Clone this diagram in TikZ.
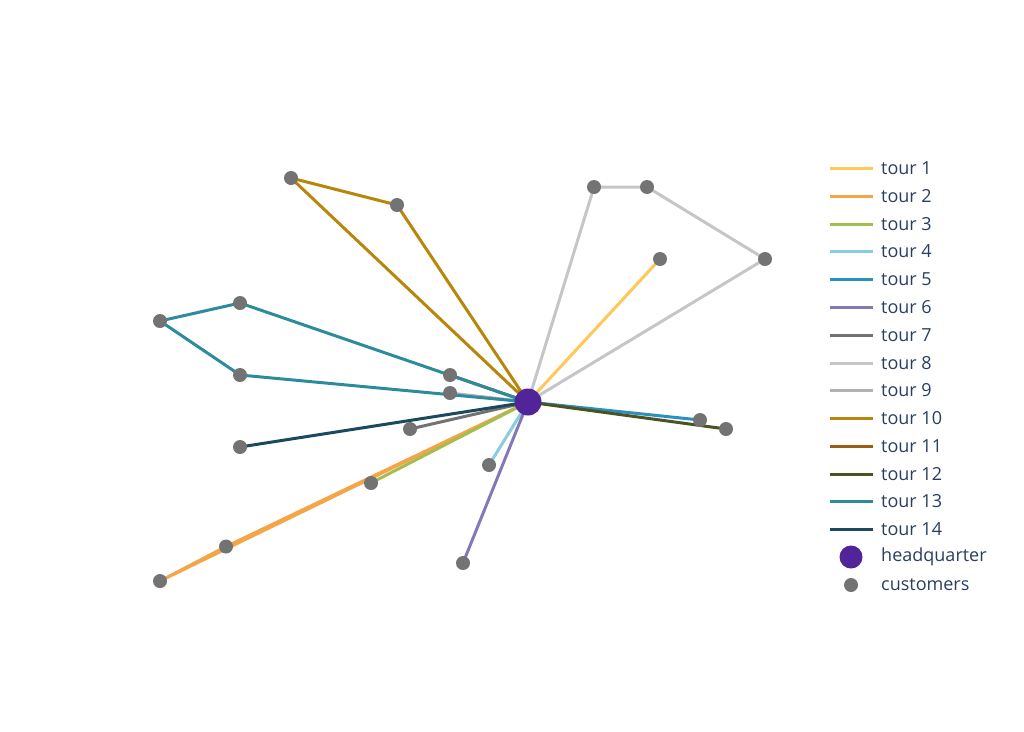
\documentclass[tikz,border=0pt]{standalone}
\usepackage{fontspec}
\setmainfont{Open Sans}
\usetikzlibrary{backgrounds}
\definecolor{t1}{HTML}{FFC857}
\definecolor{t2}{HTML}{F4A548}
\definecolor{t3}{HTML}{A3BD4E}
\definecolor{t4}{HTML}{8ACDE0}
\definecolor{t5}{HTML}{2B8FC0}
\definecolor{t6}{HTML}{8479B8}
\definecolor{t7}{HTML}{727272}
\definecolor{t8}{HTML}{C6C6C6}
\definecolor{t9}{HTML}{B2B2B2}
\definecolor{t10}{HTML}{B8860B}
\definecolor{t11}{HTML}{9C5B12}
\definecolor{t12}{HTML}{4B5320}
\definecolor{t13}{HTML}{2C8C9E}
\definecolor{t14}{HTML}{1B4A5E}
\definecolor{hqc}{HTML}{512599}
\definecolor{cust}{HTML}{737373}
\definecolor{txt}{HTML}{2A3F5F}
\tikzset{
  tour/.style={line width=3pt, line join=round},
  custdot/.style={circle, fill=cust, minimum size=14pt, inner sep=0pt},
  hqdot/.style={circle, fill=hqc, minimum size=27pt, inner sep=0pt},
  legtext/.style={anchor=west, text=txt, font=\fontsize{18}{20}\selectfont, inner sep=0pt},
}
\begin{document}
\begin{tikzpicture}[x=1pt,y=-1pt]
\useasboundingbox (0,0) rectangle (1024,731);
% headquarter
\node[hqdot] (hq) at (528,402) {};
% customers
\node[custdot] (c1) at (291,178) {};
\node[custdot] (c2) at (397,205) {};
\node[custdot] (c3) at (594,187) {};
\node[custdot] (c4) at (647,187) {};
\node[custdot] (c5) at (765,259) {};
\node[custdot] (c6) at (660,259) {};
\node[custdot] (c7) at (240,303) {};
\node[custdot] (c8) at (160,321) {};
\node[custdot] (c9) at (240,375) {};
\node[custdot] (c10) at (450,375) {};
\node[custdot] (c11) at (450,393) {};
\node[custdot] (c12) at (410,429) {};
\node[custdot] (c13) at (240,447) {};
\node[custdot] (c14) at (489,465) {};
\node[custdot] (c15) at (371,483) {};
\node[custdot] (c16) at (226,546.5) {};
\node[custdot] (c17) at (160,581) {};
\node[custdot] (c18) at (463,563) {};
\node[custdot] (c19) at (700,420) {};
\node[custdot] (c20) at (726,429) {};
% tours beneath the markers
\begin{scope}[on background layer]
\draw[tour, t1] (hq.center) -- (c6.center);
\draw[tour, t2] (hq.center) -- (c16.center) -- (c17.center) -- (hq.center);
\draw[tour, t3] (hq.center) -- (c15.center);
\draw[tour, t4] (hq.center) -- (c14.center);
\draw[tour, t5] (hq.center) -- (c19.center);
\draw[tour, t6] (hq.center) -- (c18.center);
\draw[tour, t7] (hq.center) -- (c12.center);
\draw[tour, t8] (hq.center) -- (c3.center) -- (c4.center) -- (c5.center) -- (hq.center);
\draw[tour, t9] (hq.center) -- (c11.center);
\draw[tour, t10] (hq.center) -- (c2.center) -- (c1.center) -- (hq.center);
\draw[tour, t11] (hq.center) -- (c10.center);
\draw[tour, t12] (hq.center) -- (c20.center);
\draw[tour, t13] (hq.center) -- (c7.center) -- (c8.center) -- (c9.center) -- (hq.center);
\draw[tour, t14] (hq.center) -- (c13.center);
\end{scope}
% legend
\foreach \i/\y in {1/168,2/196,3/224,4/251,5/279,6/307,7/335,8/363,9/390,10/418,11/446,12/474,13/501,14/529}{
  \coordinate (la\i) at (830,\y);
  \coordinate (lb\i) at (873,\y);
  \draw[tour, t\i] (la\i) -- (lb\i);
  \node[legtext] (lt\i) at (881,\y) {tour \i};
}
\node[hqdot, minimum size=23pt] (lhq) at (851,557) {};
\node[legtext] (lthq) at (881,557) {headquarter};
\node[custdot] (lcu) at (851,585) {};
\node[legtext] (ltcu) at (881,585) {customers};
\end{tikzpicture}
\end{document}
